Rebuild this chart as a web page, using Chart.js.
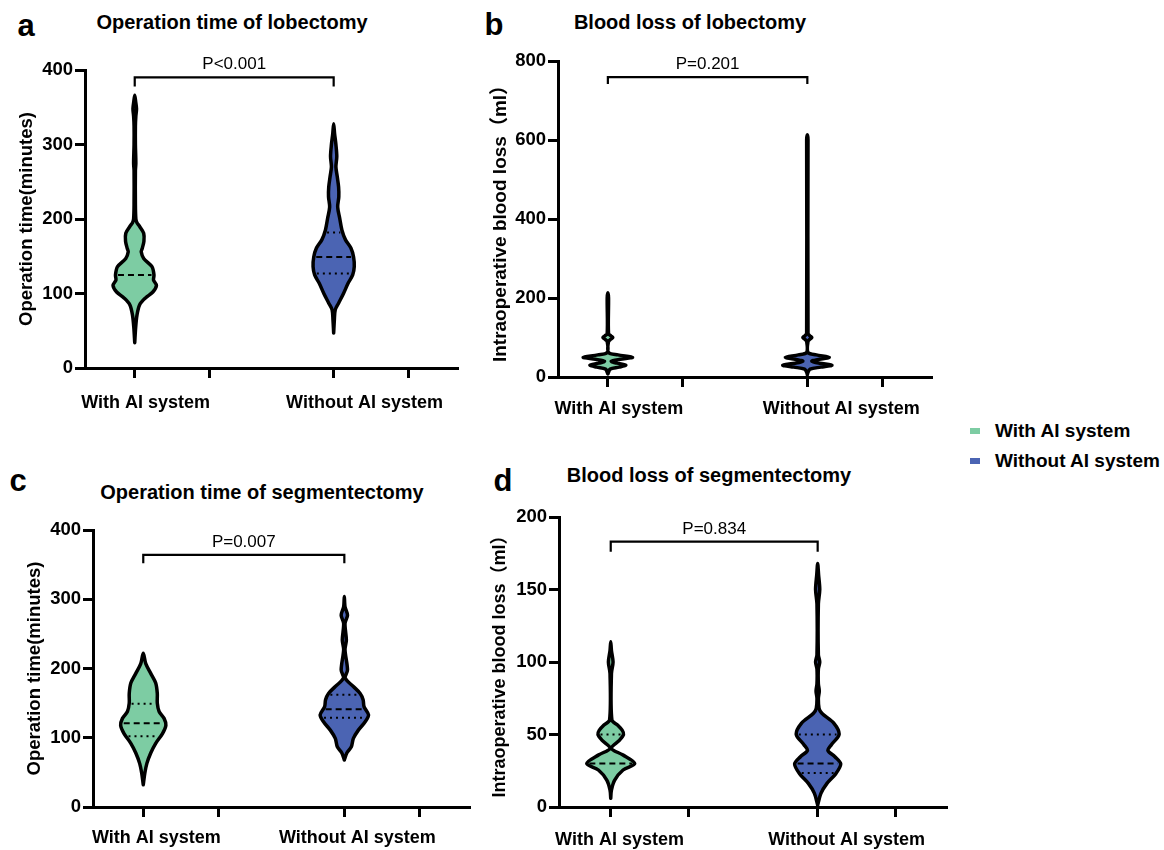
<!DOCTYPE html>
<html>
<head>
<meta charset="utf-8">
<script src="https://cdn.jsdelivr.net/npm/chart.js@4.4.0/dist/chart.umd.min.js"></script>
<style>
  body { margin:0; background:#fff; width:1164px; height:850px; position:relative; overflow:hidden;
         font-family:"Liberation Sans", Arial, sans-serif; color:#000; }
  canvas { position:absolute; }
  .t { position:absolute; transform:translate(-50%,-50%); font-weight:bold; white-space:nowrap; }
  .letter { font-size:31px; }
  .title { font-size:20px; }
  .leg { position:absolute; font-weight:bold; font-size:19px; white-space:nowrap; }
  .leg i { position:absolute; left:-25px; top:8px; width:10px; height:6px; }
</style>
</head>
<body>
<div class="t letter" style="left:26px;top:26px">a</div>
<div class="t title" style="left:232px;top:22px">Operation time of lobectomy</div>
<div class="t letter" style="left:494px;top:25px">b</div>
<div class="t title" style="left:690px;top:22px">Blood loss of lobectomy</div>
<div class="t letter" style="left:18px;top:481px">c</div>
<div class="t title" style="left:262px;top:492px">Operation time of segmentectomy</div>
<div class="t letter" style="left:503px;top:481px">d</div>
<div class="t title" style="left:709px;top:475px">Blood loss of segmentectomy</div>

<div class="leg" style="left:995px;top:420px"><i style="background:#7DCCA3"></i>With AI system</div>
<div class="leg" style="left:995px;top:450px"><i style="background:#4B64B3"></i>Without AI system</div>

<canvas id="pa" width="470" height="425" style="left:0;top:0"></canvas>
<canvas id="pb" width="480" height="425" style="left:470px;top:0"></canvas>
<canvas id="pc" width="475" height="410" style="left:0;top:440px"></canvas>
<canvas id="pd" width="485" height="410" style="left:475px;top:440px"></canvas>

<script>
const groups = ["With AI system", "Without AI system"];
const groupColors = ["#7DCCA3", "#4B64B3"];

// violin outlines: [value, relative half width], from top tip down to bottom tip
const lobTimeWith = [[366,0],[358,0.04],[348,0.08],[338,0.05],[325,0.03],[300,0.03],[275,0.05],[265,0.03],[220,0.03],[200,0.05],[195,0.1],[190,0.22],[181,0.4],[170,0.41],[160,0.33],[156,0.29],[147,0.4],[136,0.77],[125,0.86],[118,0.84],[111,0.97],[102,0.81],[94,0.48],[85,0.22],[71,0.1],[54,0.04],[34,0]];
const lobTimeWithout = [[328,0],[315,0.04],[300,0.1],[284,0.14],[270,0.1],[257,0.16],[243,0.22],[230,0.23],[216,0.18],[201,0.27],[185,0.37],[172,0.53],[161,0.77],[149,0.89],[136,0.92],[125,0.85],[114,0.65],[100,0.44],[87,0.22],[78,0.07],[64,0.03],[47,0]];
const lobLossWith = [[213,0],[200,0.03],[110,0.03],[104,0.14],[100,0.22],[96,0.14],[90,0.03],[62,0.03],[56,0.45],[50,1.1],[45,0.55],[40,0.15],[35,0.4],[30,0.8],[25,0.5],[20,0.1],[12,0.03],[8,0]];
const lobLossWithout = [[613,0],[600,0.03],[110,0.03],[104,0.12],[100,0.2],[96,0.12],[90,0.03],[62,0.03],[56,0.4],[50,0.98],[44,0.45],[40,0.2],[35,0.55],[30,1.1],[25,0.6],[20,0.12],[12,0.03],[6,0]];
const segTimeWith = [[222,0],[207,0.11],[193,0.33],[179,0.55],[164,0.62],[150,0.62],[138,0.7],[128,0.92],[118,1.0],[106,0.85],[92,0.55],[78,0.33],[63,0.16],[49,0.07],[32,0]];
const segTimeWithout = [[304,0],[289,0.03],[277,0.14],[265,0.03],[241,0.09],[227,0.03],[198,0.14],[186,0.04],[174,0.4],[164,0.7],[155,0.83],[145,0.87],[133,1.07],[123,0.92],[111,0.62],[99,0.4],[87,0.31],[78,0.11],[68,0]];
const segLossWith = [[114,0],[108,0.03],[100,0.1],[92,0.03],[60,0.05],[56.5,0.29],[53,0.49],[50,0.55],[46,0.37],[40.5,0.03],[36,0.51],[30,1.03],[25.5,0.53],[18.6,0.17],[11.7,0.03],[6,0]];
const segLossWithout = [[168,0],[160,0.04],[150,0.09],[140,0.03],[105,0.03],[100,0.09],[95,0.03],[85,0.03],[80,0.07],[75,0.03],[68,0.06],[64.6,0.18],[57.7,0.7],[50,0.92],[43,0.59],[39,0.44],[34.7,0.74],[29.7,0.99],[23,0.78],[16.3,0.4],[9.4,0.14],[1.4,0]];

// medians (dashed) and quartiles (dotted)
const lobTimeMedians = [125, 149];
const lobTimeQuartiles = [[], [127, 182]];
const lobLossMedians = [null, null];
const lobLossQuartiles = [[], []];
const segTimeMedians = [121, 141];
const segTimeQuartiles = [[102, 149], [129, 162]];
const segLossMedians = [30, 30];
const segLossQuartiles = [[50], [23.5, 50]];

// significance brackets [foot, top] and p values
const lobTimeBracket = [378, 390], lobTimeP = "P<0.001";
const lobLossBracket = [742, 759], lobLossP = "P=0.201";
const segTimeBracket = [352, 364], segTimeP = "P=0.007";
const segLossBracket = [176, 183], segLossP = "P=0.834";

// y tick labels
const timeTicks = [0, 100, 200, 300, 400];
const lobLossTicks = [0, 200, 400, 600, 800];
const segLossTicks = [0, 50, 100, 150, 200];

const FONT = '"Liberation Sans", Arial, "Noto Sans CJK SC", sans-serif';
const groupX = [1, 5];
const halfW = 0.45;

function outline(prof, cx) {
  const pts = [];
  for (let i = prof.length - 1; i >= 0; i--) pts.push({x: cx + prof[i][1]*halfW, y: prof[i][0]});
  for (let i = 1; i < prof.length; i++) pts.push({x: cx - prof[i][1]*halfW, y: prof[i][0]});
  return pts;
}
function widthAt(prof, v) {
  for (let i = 0; i < prof.length - 1; i++) {
    const [v1, d1] = prof[i], [v2, d2] = prof[i+1];
    if (v <= v1 && v >= v2) return d1 + (d2 - d1) * (v1 - v) / (v1 - v2);
  }
  return 0;
}
function cutLine(prof, cx, v, dash) {
  const hw = Math.max(widthAt(prof, v)*halfW - 0.05, 0);
  return { data: [{x: cx - hw, y: v}, {x: cx + hw, y: v}], showLine: true, borderColor: '#000', order: 0,
           borderWidth: 2, borderDash: dash, pointRadius: 0, fill: false, tension: 0 };
}

const pText = {
  id: 'pText',
  afterDatasetsDraw(chart, args, opts) {
    const {ctx, scales: {x, y}} = chart;
    ctx.save();
    ctx.font = '17px ' + FONT;
    ctx.fillStyle = '#000';
    ctx.textAlign = 'center';
    ctx.textBaseline = 'alphabetic';
    ctx.fillText(opts.text, x.getPixelForValue((groupX[0] + groupX[1]) / 2), y.getPixelForValue(opts.at) - opts.gap);
    ctx.restore();
  }
};

function makePanel(id, p) {
  const datasets = [];
  p.violins.forEach((prof, i) => {
    datasets.push({ data: outline(prof, groupX[i]), showLine: true, borderColor: '#000', borderWidth: 3.5,
      backgroundColor: groupColors[i], fill: 'shape', tension: 0.3, pointRadius: 0, order: 1,
      borderJoinStyle: 'round', borderCapStyle: 'round' });
  });
  p.violins.forEach((prof, i) => {
    if (p.medians[i] != null) datasets.push(cutLine(prof, groupX[i], p.medians[i], [6, 4]));
    p.quartiles[i].forEach(q => datasets.push(cutLine(prof, groupX[i], q, [2, 4])));
  });
  const [b0, b1] = p.bracket;
  datasets.push({ data: [{x: groupX[0], y: b0}, {x: groupX[0], y: b1}, {x: groupX[1], y: b1}, {x: groupX[1], y: b0}],
    showLine: true, borderColor: '#000', borderWidth: 2.2, pointRadius: 0, fill: false, tension: 0, order: 0 });

  // tick marks at 1, 2.5, 5, 6.5; group labels sit just right of their marks
  const xTicks = [1, 1 + p.lab[0], 2.5, 5, 5 + p.lab[1], 6.5];
  const labelAt = {1: groups[0], 4: groups[1]};

  new Chart(document.getElementById(id), {
    type: 'scatter',
    data: { datasets },
    options: {
      responsive: false, animation: false,
      layout: { padding: { top: p.padTop, right: p.padRight, left: 0, bottom: 0 } },
      plugins: { legend: { display: false }, tooltip: { enabled: false }, pText: { text: p.pText, at: p.bracket[1], gap: 8 } },
      scales: {
        x: {
          type: 'linear', min: 0, max: 7.5,
          afterBuildTicks: s => { s.ticks = xTicks.map(v => ({value: v})); },
          afterFit: s => { s.height = p.xH; },
          ticks: { autoSkip: false, maxRotation: 0, color: '#000', padding: p.xPad,
                   font: { family: FONT, size: 18, weight: 'bold' },
                   callback: (v, i) => labelAt[i] || '' },
          grid: { drawOnChartArea: false, tickLength: 10, tickWidth: 3,
                  tickColor: c => (c.index === 1 || c.index === 4) ? 'rgba(0,0,0,0)' : '#000' },
          border: { width: 3, color: '#000' }
        },
        y: {
          min: 0, max: p.yTicks[p.yTicks.length - 1],
          afterBuildTicks: s => { s.ticks = p.yTicks.map(v => ({value: v})); },
          afterFit: s => { s.width = p.yW; },
          ticks: { color: '#000', padding: 2, font: { family: FONT, size: 18.5, weight: 'bold' } },
          grid: { drawOnChartArea: false, tickLength: 10, tickWidth: 3, tickColor: '#000' },
          border: { width: 3, color: '#000' },
          title: { display: true, text: p.yTitle, color: '#000', padding: { top: p.titlePad, bottom: 0 },
                   font: { family: FONT, size: p.titleSize, weight: 'bold' } }
        }
      }
    },
    plugins: [pText]
  });
}

makePanel('pa', { violins: [lobTimeWith, lobTimeWithout], medians: lobTimeMedians, quartiles: lobTimeQuartiles,
  bracket: lobTimeBracket, pText: lobTimeP, yTicks: timeTicks, yTitle: 'Operation time(minutes)', titleSize: 18.5,
  padTop: 70, padRight: 12, yW: 85, xH: 57, xPad: 14, titlePad: 16, lab: [0.22, 0.62] });
makePanel('pb', { violins: [lobLossWith, lobLossWithout], medians: lobLossMedians, quartiles: lobLossQuartiles,
  bracket: lobLossBracket, pText: lobLossP, yTicks: lobLossTicks, yTitle: 'Intraoperative blood loss（ml）', titleSize: 19,
  padTop: 61, padRight: 18, yW: 88, xH: 48, xPad: 11, titlePad: 19, lab: [0.22, 0.68] });
makePanel('pc', { violins: [segTimeWith, segTimeWithout], medians: segTimeMedians, quartiles: segTimeQuartiles,
  bracket: segTimeBracket, pText: segTimeP, yTicks: timeTicks, yTitle: 'Operation time(minutes)', titleSize: 18.5,
  padTop: 90, padRight: 5, yW: 93, xH: 43, xPad: 10, titlePad: 24, lab: [0.26, 0.26] });
makePanel('pd', { violins: [segLossWith, segLossWithout], medians: segLossMedians, quartiles: segLossQuartiles,
  bracket: segLossBracket, pText: segLossP, yTicks: segLossTicks, yTitle: 'Intraoperative blood loss（ml）', titleSize: 18,
  padTop: 77, padRight: 13, yW: 84, xH: 43, xPad: 12, titlePad: 14, lab: [0.17, 0.56] });
</script>
</body>
</html>
